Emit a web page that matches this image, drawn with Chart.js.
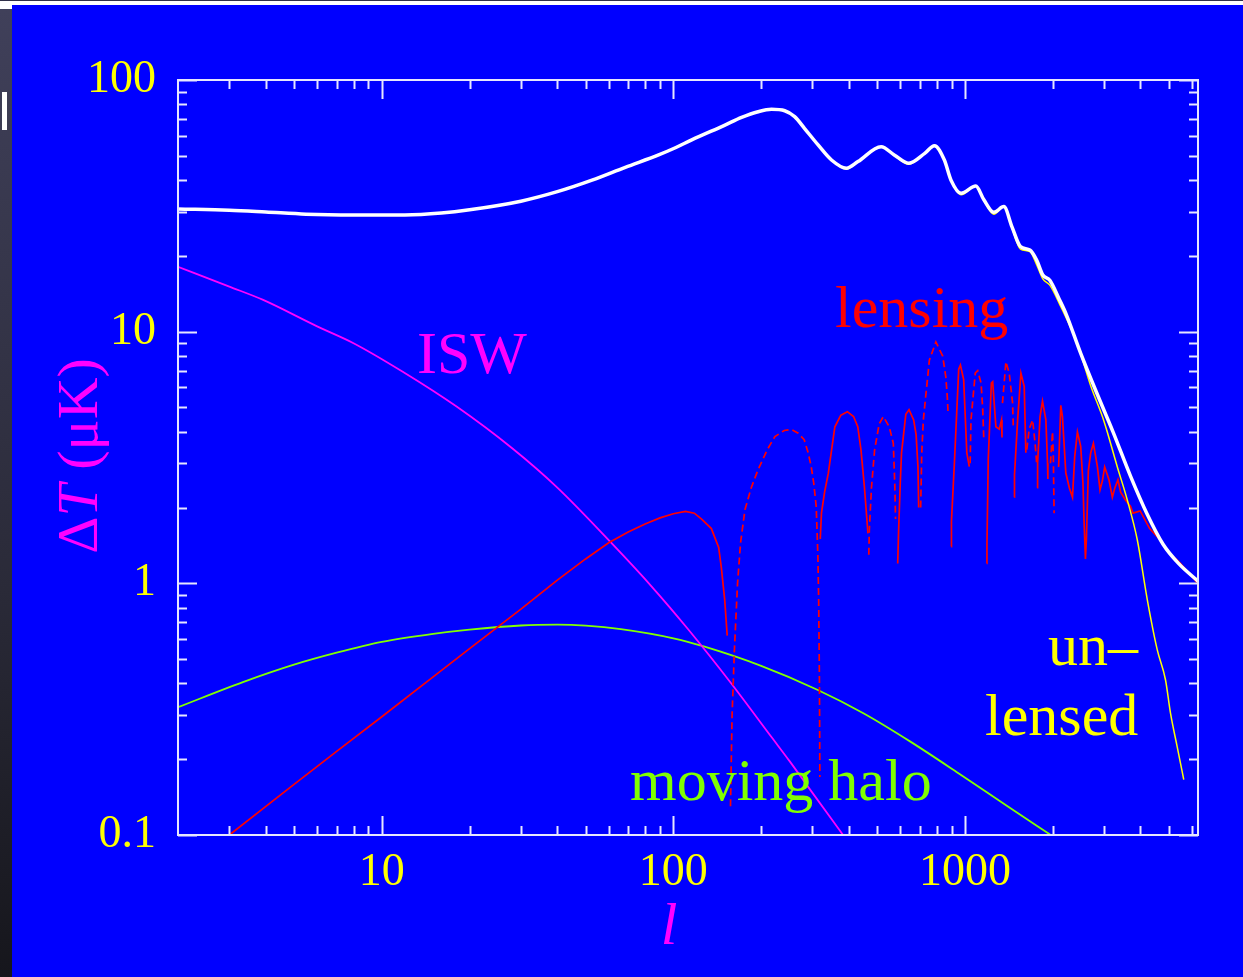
<!DOCTYPE html>
<html>
<head>
<meta charset="utf-8">
<script src="https://cdn.jsdelivr.net/npm/chart.js@4.4.1/dist/chart.umd.min.js"></script>
<style>
    html, body { margin: 0; padding: 0; background: #0000ff; overflow: hidden; }
    #wrap { position: relative; width: 1243px; height: 977px; }
    #chart { position: absolute; left: 0; top: 0; }
    #topbar { position: absolute; left: 0; top: 0; width: 1243px; height: 5px; background: #ffffff; border-top: 1px solid #30304a; box-sizing: border-box; }
    #sidebar { position: absolute; left: 0; top: 9px; width: 12px; height: 968px; background: linear-gradient(#40405a, #2a2a38 60%, #16161c); }
    #sidemark { position: absolute; left: 2px; top: 92px; width: 5px; height: 38px; background: #ffffff; }
    #sidecorner { position: absolute; left: 0; top: 5px; width: 12px; height: 4px; background: #ffffff; }
</style>
</head>
<body>
<div id="wrap">
    <canvas id="chart" width="1243" height="977"></canvas>
    <div id="topbar"></div>
    <div id="sidecorner"></div>
    <div id="sidebar"></div>
    <div id="sidemark"></div>
</div>
<script>
// multipole l values and temperature (uK)
const totalL = [2, 3, 4, 5.5, 8, 12, 16, 20, 30, 40, 52.6, 68.4, 89, 101.6, 115.6, 150.3, 171.4, 195.2, 217, 241, 260.6, 281.5, 313.6, 348.6, 392, 429.6, 516, 572, 642, 728, 786, 850, 896, 970, 1090, 1160, 1256, 1360, 1450, 1550, 1670, 1760, 1850, 1955, 2110, 2220, 2495, 2870, 3220, 3700, 4210, 4780, 5400, 6300];
const totalV = [30.7, 30.4, 29.9, 29.3, 29.1, 29.1, 29.6, 30.5, 33, 36, 40, 45, 50.4, 53.8, 57.8, 66.2, 71, 74.8, 76.5, 75.5, 71.5, 64.3, 55.2, 48.1, 44.6, 47.4, 54.3, 50.4, 46.7, 51.1, 54.8, 48.1, 40, 35.5, 37.9, 33.5, 29.8, 31.4, 26.1, 21.8, 21.1, 19.3, 16.8, 16.0, 13.4, 11.8, 8.2, 5.5, 4.0, 2.66, 1.89, 1.43, 1.2, 1.02];

const unlensedL = [2, 3, 4, 5.5, 8, 12, 16, 20, 30, 40, 52.6, 68.4, 89, 101.6, 115.6, 150.3, 171.4, 195.2, 217, 241, 260.6, 281.5, 313.6, 348.6, 392, 429.6, 516, 572, 642, 728, 786, 850, 896, 970, 1090, 1160, 1256, 1360, 1450, 1550, 1670, 1760, 1850, 1955, 2110, 2432, 2700, 3000, 3332, 3606, 3900, 4222, 4567, 4875, 5070, 5346, 5630];
const unlensedV = [30.7, 30.4, 29.9, 29.3, 29.1, 29.1, 29.6, 30.5, 33, 36, 40, 45, 50.4, 53.8, 57.8, 66.2, 71, 74.8, 76.5, 75.5, 71.5, 64.3, 55.2, 48.1, 44.3, 47.4, 54.3, 50.2, 46.3, 51.1, 54.8, 48.1, 40, 35, 37.9, 33.3, 29.3, 31.4, 25.8, 21.3, 20.8, 18.5, 16.2, 15.3, 12.9, 8.9, 6.1, 4.4, 2.9, 2.14, 1.49, 0.86, 0.544, 0.413, 0.305, 0.224, 0.166];

// lensing contribution: positive parts (solid) and negative parts (dashed), null breaks the line
const lensPosL = [3, 5, 7, 10, 15, 20, 30, 40, 50, 60, 70, 80, 90, 100, 110, 118, 125, 135, 143, 146, 150, 153, 156,
    319, 322, 330, 340, 358, 375, 395, 415, 429, 440, 452, 465, 467,
    588, 592, 600, 606, 627, 643, 667, 680, 690, 694, 697,
    897, 899, 920, 952, 965, 990, 1015, 1035, 1038,
    1188, 1190, 1202, 1232, 1245, 1277, 1311, 1335, 1340, 1342,
    1477, 1479, 1516, 1556, 1597, 1618, 1620,
    1768, 1775, 1810, 1845, 1895, 1920, 1925, 1930,
    2095, 2132, 2160, 2218, 2280, 2338, 2380, 2431, 2495, 2540, 2561, 2590, 2610, 2650, 2700, 2758, 2847, 2906, 2960, 3015, 3119, 3203, 3270, 3348, 3420, 3557, 3700, 3770, 3990, 4300, 4640, 5010, 5410, 6300];
const lensPosV = [0.1, 0.159, 0.215, 0.295, 0.425, 0.55, 0.79, 1.03, 1.25, 1.45, 1.6, 1.72, 1.82, 1.89, 1.93, 1.9, 1.8, 1.65, 1.39, 1.16, 0.86, 0.62, null,
    1.5, 1.9, 2.3, 2.74, 4.19, 4.65, 4.81, 4.6, 4.19, 3.39, 2.42, 1.58, null,
    1.2, 1.6, 2.5, 3.3, 4.7, 4.9, 4.46, 3.9, 2.91, 2.0, null,
    1.4, 1.76, 3.0, 7.1, 7.37, 6.45, 3.3, 2.91, null,
    1.2, 1.42, 3.1, 6.25, 6.33, 4.19, 4.1, 4.46, 3.8, null,
    2.2, 2.7, 4.46, 6.84, 6.06, 3.3, null,
    2.4, 3.0, 4.6, 5.3, 4.46, 3.0, 2.6, null,
    2.9, 5.1, 4.6, 2.75, 2.4, 2.2, 3.2, 4.0, 3.5, 2.5, 1.79, 1.25, 1.5, 2.8, 3.3, 3.6, 2.9, 2.35, 2.55, 2.9, 2.58, 2.2, 2.4, 2.58, 2.3, 2.14, 2.02, 1.9, 1.94, 1.65, 1.5, 1.32, 1.22, 1.0];

const lensNegL = [157, 159, 162, 166, 170, 176, 185, 195, 210, 223, 240, 254, 268, 281, 290, 297, 303, 309, 313, 315, 317, 318, 318.5,
    468, 470, 478, 490, 508, 525, 550, 568, 575, 578, 580,
    705, 711, 720, 755, 795, 839, 860, 870, 875, 878,
    1042, 1049, 1085, 1106, 1136, 1151, 1160, 1162,
    1345, 1382, 1419, 1457, 1465, 1467,
    1630, 1661, 1707, 1740, 1762, 1764,
    1965, 1997, 2010, 2022];
const lensNegV = [0.13, 0.3, 0.55, 1.0, 1.45, 1.96, 2.4, 2.82, 3.4, 3.83, 4.05, 4.09, 3.95, 3.72, 3.3, 2.91, 2.5, 2.02, 1.3, 0.86, 0.4, 0.17, null,
    1.3, 1.63, 2.4, 3.39, 4.3, 4.6, 4.19, 3.6, 2.42, 1.8, null,
    2.0, 3.3, 4.46, 7.7, 9.1, 8.0, 6.6, 5.5, 4.8, null,
    3.0, 4.46, 6.84, 7.0, 6.25, 4.9, 3.8, null,
    5.2, 7.6, 6.84, 5.2, 4.2, null,
    3.4, 4.1, 4.46, 3.6, 3.0, null,
    3.0, 4.0, 3.2, 1.9];

const iswL = [2, 3, 3.9, 6, 8, 11.8, 18, 28, 40, 61.5, 85, 112, 158, 217, 250, 289, 382];
const iswV = [18.1, 15.1, 13.4, 10.5, 9.0, 6.93, 5.05, 3.44, 2.40, 1.44, 0.96, 0.66, 0.40, 0.245, 0.197, 0.156, 0.1];

const haloL = [2, 3.34, 5, 7, 10, 15, 20, 30, 40, 50, 66, 100, 128, 200, 313, 450, 650, 950, 1400, 1970];
const haloV = [0.322, 0.405, 0.475, 0.53, 0.585, 0.63, 0.655, 0.68, 0.685, 0.679, 0.658, 0.605, 0.56, 0.47, 0.377, 0.304, 0.235, 0.176, 0.13, 0.1];

// axis ticks
const xLabelTicks = [10, 100, 1000];
const xMinorTicks = [3, 4, 5, 6, 7, 8, 9, 20, 30, 40, 50, 60, 70, 80, 90, 200, 300, 400, 500, 600, 700, 800, 900, 2000, 3000, 4000, 5000, 6000];
const yLabelTicks = [0.1, 1, 10, 100];
const yMinorTicks = [0.2, 0.3, 0.4, 0.5, 0.6, 0.7, 0.8, 0.9, 2, 3, 4, 5, 6, 7, 8, 9, 20, 30, 40, 50, 60, 70, 80, 90];

const toPoints = (xs, ys) => xs.map((x, i) => ({ x: x, y: ys[i] }));

const serif = '"Liberation Serif", "Times New Roman", serif';

// frame with inward ticks on all four sides
const frameTicks = {
    id: 'frameTicks',
    afterDraw(chart) {
        const { ctx, chartArea: a, scales } = chart;
        ctx.save();
        ctx.strokeStyle = '#e6e6ff';
        ctx.lineWidth = 2;
        ctx.strokeRect(a.left, a.top, a.right - a.left, a.bottom - a.top);
        ctx.beginPath();
        const xTick = (v, len) => {
            const px = Math.round(scales.x.getPixelForValue(v)) + 0.5;
            ctx.moveTo(px, a.bottom); ctx.lineTo(px, a.bottom - len);
            ctx.moveTo(px, a.top); ctx.lineTo(px, a.top + len);
        };
        const yTick = (v, len) => {
            const py = Math.round(scales.y.getPixelForValue(v)) + 0.5;
            ctx.moveTo(a.left, py); ctx.lineTo(a.left + len, py);
            ctx.moveTo(a.right, py); ctx.lineTo(a.right - len, py);
        };
        xLabelTicks.forEach(v => xTick(v, 19));
        xMinorTicks.forEach(v => xTick(v, 9));
        yLabelTicks.forEach(v => yTick(v, 19));
        yMinorTicks.forEach(v => yTick(v, 9));
        ctx.stroke();
        ctx.restore();
    }
};

// curve names and axis titles
const chartTexts = {
    id: 'chartTexts',
    afterDraw(chart) {
        const ctx = chart.ctx;
        ctx.save();
        ctx.textBaseline = 'alphabetic';
        ctx.textAlign = 'left';
        ctx.font = '60px ' + serif;
        ctx.fillStyle = '#ff00ff';
        ctx.fillText('ISW', 417, 373);
        ctx.fillStyle = '#ff0000';
        ctx.fillText('lensing', 835, 327);
        ctx.fillStyle = '#ffff00';
        ctx.fillText('un\u2013', 1048, 665);
        ctx.fillText('lensed', 985, 735);
        ctx.fillStyle = '#80ff00';
        ctx.fillText('moving halo', 630, 800);

        ctx.fillStyle = '#ff00ff';
        ctx.textAlign = 'center';
        ctx.font = 'italic 60px ' + serif;
        ctx.fillText('l', 669, 944);

        // y title, rotated, with italic T
        const parts = [['\u0394', ''], ['T', 'italic '], [' (\u03bcK)', '']];
        ctx.textAlign = 'left';
        let total = 0;
        parts.forEach(p => { ctx.font = p[1] + '58px ' + serif; total += ctx.measureText(p[0]).width; });
        ctx.translate(97, 456);
        ctx.rotate(-Math.PI / 2);
        let x = -total / 2;
        parts.forEach(p => {
            ctx.font = p[1] + '58px ' + serif;
            ctx.fillText(p[0], x, 0);
            x += ctx.measureText(p[0]).width;
        });
        ctx.restore();
    }
};

new Chart(document.getElementById('chart').getContext('2d'), {
    type: 'line',
    data: {
        datasets: [
            {
                label: 'total',
                data: toPoints(totalL, totalV),
                borderColor: '#ffffff',
                borderWidth: 3.5,
                cubicInterpolationMode: 'monotone',
            },
            {
                label: 'unlensed',
                data: toPoints(unlensedL, unlensedV),
                borderColor: '#ffff00',
                borderWidth: 1.5,
                cubicInterpolationMode: 'monotone',
            },
            {
                label: 'lensing',
                data: toPoints(lensPosL, lensPosV),
                borderColor: '#ff0000',
                borderWidth: 1.7,
                tension: 0,
            },
            {
                label: 'lensing (negative)',
                data: toPoints(lensNegL, lensNegV),
                borderColor: '#ff0000',
                borderWidth: 1.7,
                borderDash: [7, 4],
                tension: 0,
            },
            {
                label: 'ISW',
                data: toPoints(iswL, iswV),
                borderColor: '#ff00ff',
                borderWidth: 1.8,
                cubicInterpolationMode: 'monotone',
            },
            {
                label: 'moving halo',
                data: toPoints(haloL, haloV),
                borderColor: '#80ff00',
                borderWidth: 1.8,
                cubicInterpolationMode: 'monotone',
            },
        ],
    },
    options: {
        responsive: false,
        animation: false,
        spanGaps: false,
        elements: { point: { radius: 0 } },
        layout: { padding: { top: 80, right: 45, left: 0, bottom: 0 } },
        plugins: {
            legend: { display: false },
            tooltip: { enabled: false },
        },
        scales: {
            x: {
                type: 'logarithmic',
                min: 2,
                max: 6300,
                grid: { display: false, drawTicks: false },
                border: { display: false },
                afterBuildTicks: (scale) => { scale.ticks = xLabelTicks.map(v => ({ value: v })); },
                afterFit: (scale) => { scale.height = 142; },
                ticks: {
                    color: '#ffff00',
                    font: { family: serif, size: 46 },
                    padding: 10,
                    autoSkip: false,
                    maxRotation: 0,
                    callback: (v) => String(v),
                },
            },
            y: {
                type: 'logarithmic',
                min: 0.1,
                max: 100,
                grid: { display: false, drawTicks: false },
                border: { display: false },
                afterBuildTicks: (scale) => { scale.ticks = yLabelTicks.map(v => ({ value: v })); },
                afterFit: (scale) => { scale.width = 178; },
                ticks: {
                    color: '#ffff00',
                    font: { family: serif, size: 46 },
                    padding: 22,
                    callback: (v) => String(v),
                },
            },
        },
    },
    plugins: [frameTicks, chartTexts],
});
</script>
</body>
</html>
